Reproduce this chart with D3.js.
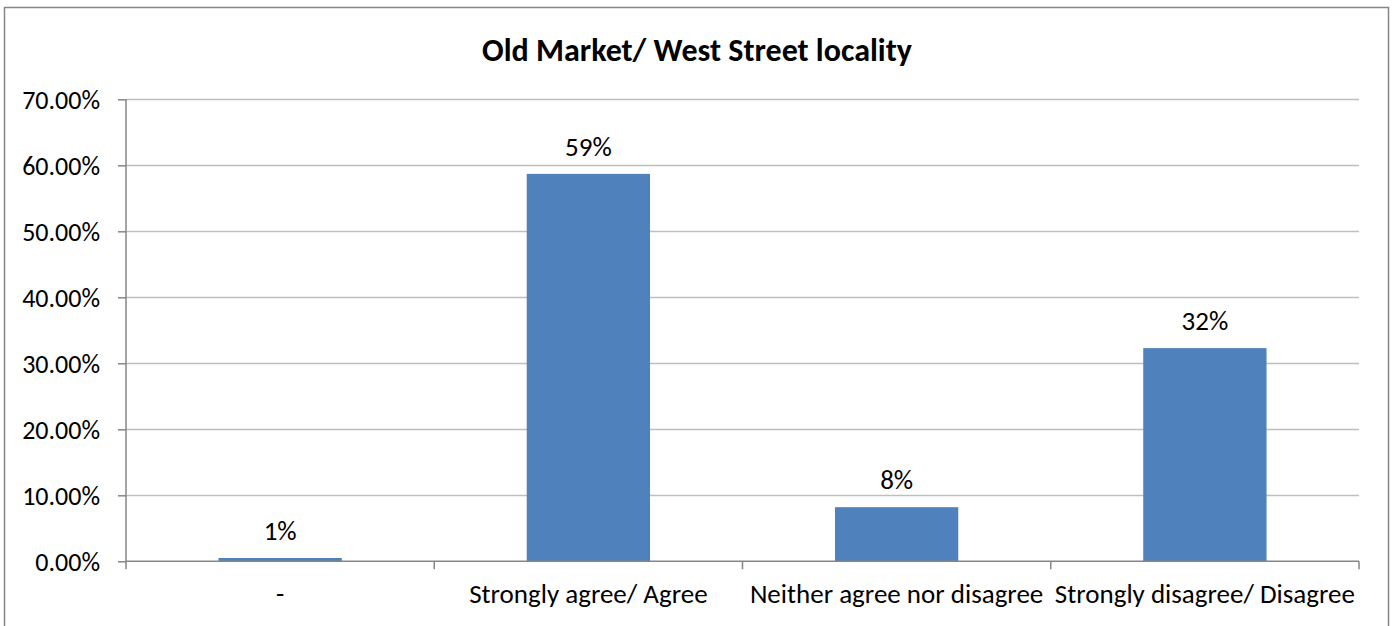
<!DOCTYPE html>
<html><head><meta charset="utf-8">
<script src="https://cdn.jsdelivr.net/npm/d3@7"></script>
<style>
html,body{margin:0;padding:0;background:#fff;}
svg text{font-family:Calibri,Carlito,Lato,"Open Sans",sans-serif;fill:#000;}
</style></head><body>
<script>
const categories = ["-", "Strongly agree/ Agree", "Neither agree nor disagree", "Strongly disagree/ Disagree"];
const values = [0.005, 0.587, 0.082, 0.323];
const valueLabels = ["1%", "59%", "8%", "32%"];
const yTicks = [0, 0.1, 0.2, 0.3, 0.4, 0.5, 0.6, 0.7];
const title = "Old Market/ West Street locality";

const W = 1395, H = 626;
const svg = d3.select("body").append("svg").attr("width", W).attr("height", H);
svg.append("rect").attr("x", 4.5).attr("y", 7.5).attr("width", 1384).attr("height", 630)
  .attr("fill", "#fff").attr("stroke", "#868686").attr("stroke-width", 1.5);

const m = {left: 126, right: 1359, top: 99.3, bottom: 561.3};
const x = d3.scaleBand().domain(categories).range([m.left, m.right]).paddingInner(0.6).paddingOuter(0.3);
const y = d3.scaleLinear().domain([0, 0.7]).range([m.bottom, m.top]);

// gridlines
svg.append("g").selectAll("line").data(yTicks.slice(1)).join("line")
  .attr("x1", m.left).attr("x2", m.right).attr("y1", d => Math.round(y(d)) + 0.5).attr("y2", d => Math.round(y(d)) + 0.5)
  .attr("stroke", "#bfbfbf").attr("stroke-width", 1.3);

// bars
svg.append("g").selectAll("rect").data(values).join("rect")
  .attr("x", (d, i) => x(categories[i])).attr("width", x.bandwidth())
  .attr("y", d => y(d)).attr("height", d => y(0) - y(d))
  .attr("fill", "#4f81bd");

// y axis
const yAxis = d3.axisLeft(y).tickValues(yTicks).tickFormat(d => (d * 100).toFixed(2) + "%").tickSize(8).tickPadding(18);
const gy = svg.append("g").attr("transform", `translate(${m.left},0)`).call(yAxis);
gy.select(".domain").attr("stroke", "#868686").attr("stroke-width", 1.5).attr("d", `M0,${m.top}V${m.bottom}`);
gy.selectAll(".tick line").attr("stroke", "#868686").attr("stroke-width", 1.5);
gy.selectAll(".tick text").style("font-size", "26px").attr("dy", "0.35em");

// x axis
const xAxis = d3.axisBottom(x).tickSize(0).tickPadding(0);
const gx = svg.append("g").attr("transform", `translate(0,${m.bottom})`).call(xAxis);
gx.select(".domain").attr("stroke", "#868686").attr("stroke-width", 1.5).attr("d", `M${m.left},0H${m.right}`);
gx.selectAll(".tick text").style("font-size", "27px").attr("y", 42).attr("dy", 0);
const bounds = d3.range(categories.length + 1).map(i => m.left + i * (m.right - m.left) / categories.length);
gx.append("g").selectAll("line").data(bounds).join("line")
  .attr("x1", d => d).attr("x2", d => d).attr("y1", 0).attr("y2", 8)
  .attr("stroke", "#868686").attr("stroke-width", 1.5);

// value labels
svg.append("g").selectAll("text").data(values).join("text")
  .attr("x", (d, i) => x(categories[i]) + x.bandwidth() / 2)
  .attr("y", d => y(d) - 18)
  .attr("text-anchor", "middle").style("font-size", "27px")
  .text((d, i) => valueLabels[i]);

// title
svg.append("text").attr("x", 697).attr("y", 61).attr("text-anchor", "middle")
  .style("font-size", "32px").style("font-weight", "bold").text(title);
</script>
</body></html>
